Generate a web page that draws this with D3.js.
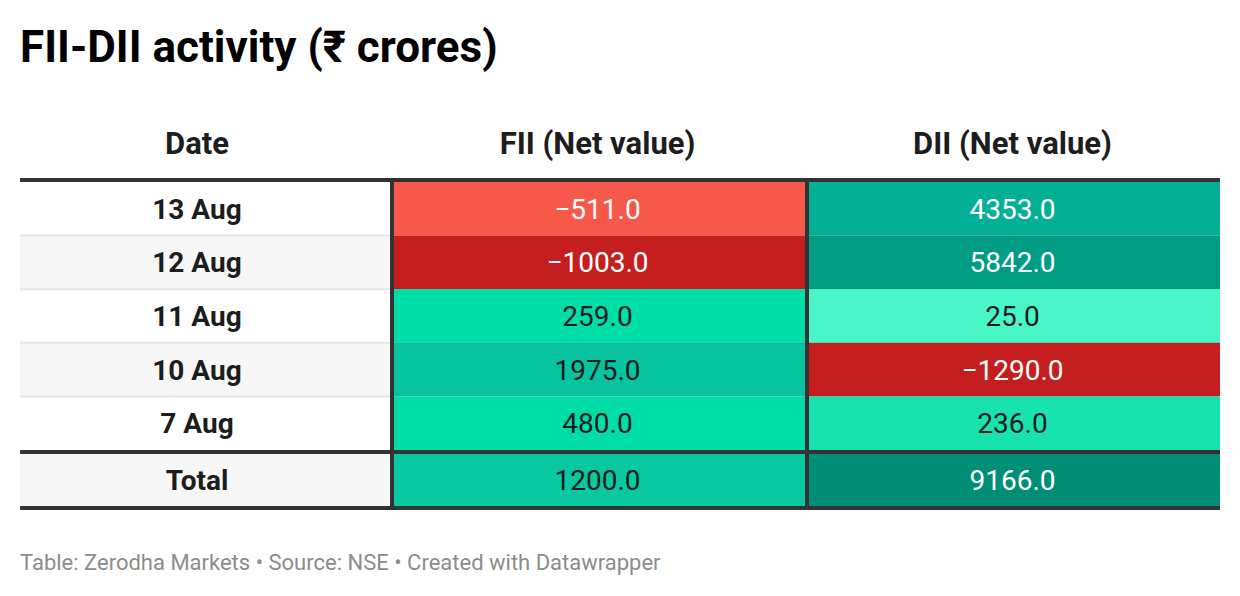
<!DOCTYPE html>
<html>
<head>
<meta charset="utf-8">
<script src="https://cdn.jsdelivr.net/npm/d3@7"></script>
<style>
  html, body { margin: 0; padding: 0; background: #fff; }
  svg text { font-family: Roboto, "Noto Sans", sans-serif; }
</style>
</head>
<body>
<svg id="chart" width="1240" height="596"></svg>
<script>
// ---- data ----
const title = "FII-DII activity (₹ crores)";
const footer = "Table: Zerodha Markets • Source: NSE • Created with Datawrapper";
const headers = ["Date", "FII (Net value)", "DII (Net value)"];
const dates = ["13 Aug", "12 Aug", "11 Aug", "10 Aug", "7 Aug"];
const fiiValues = [-511.0, -1003.0, 259.0, 1975.0, 480.0];
const diiValues = [4353.0, 5842.0, 25.0, -1290.0, 236.0];
const totalLabel = "Total";
const fiiTotal = 1200.0;
const diiTotal = 9166.0;

// ---- colour scales (per column, as in the source) ----
const fiiColor = d3.scaleLinear()
  .domain([-1003, -511, 0, 259, 480, 1200, 1975])
  .range(["#c41e1e", "#f6584a", "#3af0bd", "#00dea8", "#00dda8", "#08c8a2", "#08c3a0"])
  .clamp(true);
const diiColor = d3.scaleLinear()
  .domain([-1290, 0, 25, 236, 4353, 5842, 9166])
  .range(["#c41e1e", "#4af7c7", "#48f6c6", "#18e3ae", "#04b095", "#009d84", "#008f75"])
  .clamp(true);
const textColor = c => d3.lab(c).l < 67 ? "#ffffff" : "#1d1d1d";
const fmt = v => (v < 0 ? "\u2212" : "") + Math.abs(v).toFixed(1);

// ---- layout ----
const svg = d3.select("#chart");
const left = 20, right = 1220;
const dateColRight = 390;
const headerLineY = 180;
const bodyTop = 182, bodyBottom = 450;
const totalTop = 454, totalBottom = 506;

const colX = d3.scaleBand().domain(["fii", "dii"]).range([dateColRight, right]);
const rowY = d3.scaleBand().domain(dates).range([bodyTop, bodyBottom]);

// title
svg.append("text")
  .attr("x", 20).attr("y", 62)
  .attr("font-size", 44).attr("font-weight", 700).attr("fill", "#000")
  .text(title);

// header
const headerX = [(left + dateColRight) / 2 - 8, colX("fii") + colX.bandwidth() / 2, colX("dii") + colX.bandwidth() / 2];
svg.selectAll("text.hdr").data(headers).join("text")
  .attr("class", "hdr")
  .attr("x", (d, i) => headerX[i]).attr("y", 154)
  .attr("text-anchor", "middle")
  .attr("font-size", 31).attr("font-weight", 700).attr("fill", "#1d1d1d")
  .text(d => d);

// rows
const rows = dates.map((d, i) => ({ label: d, fii: fiiValues[i], dii: diiValues[i], y: rowY(d), h: rowY.bandwidth() }));
rows.push({ label: totalLabel, fii: fiiTotal, dii: diiTotal, y: totalTop, h: totalBottom - totalTop });

const g = svg.append("g");
rows.forEach((r, i) => {
  g.append("rect")
    .attr("x", left).attr("y", r.y).attr("width", dateColRight - left).attr("height", r.h)
    .attr("fill", i % 2 === 1 ? "#f7f7f7" : "#ffffff");
  g.append("text")
    .attr("x", headerX[0]).attr("y", r.y + r.h / 2 + 10)
    .attr("text-anchor", "middle").attr("font-size", 28).attr("font-weight", 700)
    .attr("fill", "#1d1d1d").text(r.label);
  [["fii", fiiColor], ["dii", diiColor]].forEach(([k, sc]) => {
    const c = sc(r[k]);
    g.append("rect")
      .attr("x", colX(k)).attr("y", r.y).attr("width", colX.bandwidth()).attr("height", r.h)
      .attr("fill", c);
    g.append("text")
      .attr("x", colX(k) + colX.bandwidth() / 2).attr("y", r.y + r.h / 2 + 10)
      .attr("text-anchor", "middle").attr("font-size", 28).attr("font-weight", 400)
      .attr("fill", textColor(c)).text(fmt(r[k]));
  });
});

// light row separators
dates.slice(1).forEach(d => {
  g.append("line")
    .attr("x1", left).attr("x2", dateColRight).attr("y1", rowY(d)).attr("y2", rowY(d))
    .attr("stroke", "#e6e6e6").attr("stroke-width", 2);
  g.append("line")
    .attr("x1", dateColRight).attr("x2", right).attr("y1", rowY(d)).attr("y2", rowY(d))
    .attr("stroke", "rgba(0,0,0,0.04)").attr("stroke-width", 2);
});

// heavy lines
const dark = "#333333";
[headerLineY, 452, 508].forEach(y => {
  g.append("line").attr("x1", left).attr("x2", right).attr("y1", y).attr("y2", y)
    .attr("stroke", dark).attr("stroke-width", 4);
});
["fii", "dii"].forEach(k => {
  g.append("line")
    .attr("x1", colX(k) + 2).attr("x2", colX(k) + 2)
    .attr("y1", headerLineY).attr("y2", 508)
    .attr("stroke", dark).attr("stroke-width", 4);
});

// footer
svg.append("text")
  .attr("x", 20).attr("y", 570)
  .attr("font-size", 22).attr("fill", "#8c8c8c")
  .text(footer);
</script>
</body>
</html>
